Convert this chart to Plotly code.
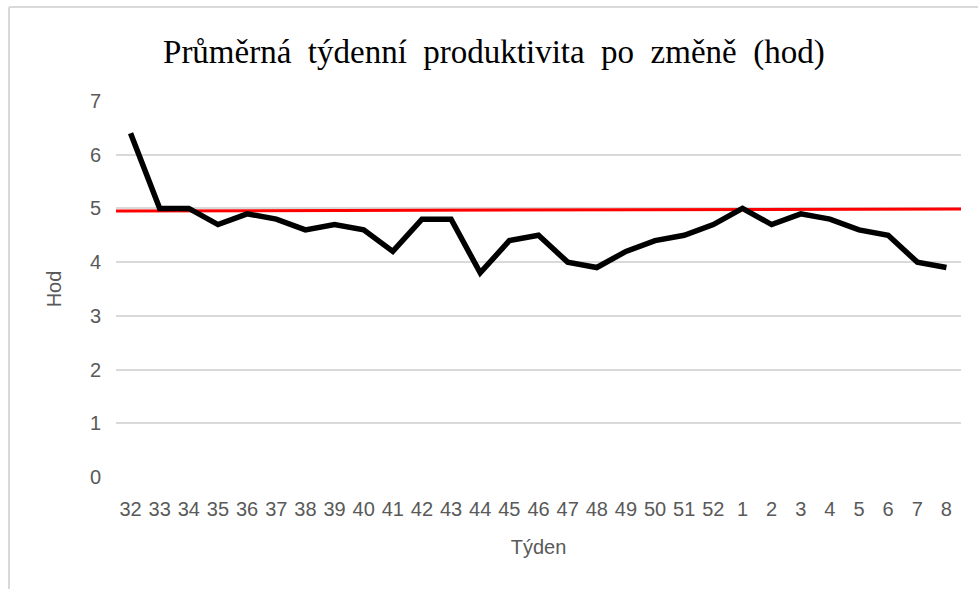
import plotly.graph_objects as go

weeks = ["32", "33", "34", "35", "36", "37", "38", "39", "40", "41", "42", "43", "44", "45",
         "46", "47", "48", "49", "50", "51", "52", "1", "2", "3", "4", "5", "6", "7", "8"]
hours = [6.4, 5.0, 5.0, 4.7, 4.9, 4.8, 4.6, 4.7, 4.6, 4.2, 4.8, 4.8, 3.8, 4.4,
         4.5, 4.0, 3.9, 4.2, 4.4, 4.5, 4.7, 5.0, 4.7, 4.9, 4.8, 4.6, 4.5, 4.0, 3.9]
target_ends = [4.95, 4.99]
y_ticks = [0, 1, 2, 3, 4, 5, 6, 7]
title_text = "Průměrná týdenní produktivita po změně (hod)"

idx = list(range(len(weeks)))
edge_x = [-0.5, len(weeks) - 0.5]

W, H = 978, 589
L, R, T, B = 116, 17, 101, 112
pw, ph = W - L - R, H - T - B

tick_font = dict(family="Liberation Sans, Arial", size=20, color="#595959")

fig = go.Figure()
fig.add_trace(go.Scatter(x=edge_x, y=target_ends, mode="lines",
                         line=dict(color="#ff0000", width=3), showlegend=False, hoverinfo="skip"))
fig.add_trace(go.Scatter(x=idx, y=hours, mode="lines",
                         line=dict(color="#000000", width=5.5), showlegend=False))

fig.update_layout(
    width=W, height=H,
    margin=dict(l=L, r=R, t=T, b=B),
    paper_bgcolor="white", plot_bgcolor="white",
    title=dict(text=title_text.replace(" ", " \u00a0"),
               font=dict(family="Liberation Serif, Times New Roman, serif", size=33, color="#000000"),
               x=0.505, xanchor="center", y=1 - 51 / H, yanchor="middle"),
    xaxis=dict(range=edge_x, tickmode="array", tickvals=idx, ticktext=weeks,
               showgrid=False, zeroline=False, showline=False, ticks="",
               tickfont=tick_font, ticklabelstandoff=18, fixedrange=True,
               title=dict(text="Týden", font=tick_font, standoff=20)),
    yaxis=dict(range=[0, 7], tickmode="array", tickvals=y_ticks,
               showgrid=True, gridcolor="#d9d9d9", gridwidth=1.5, zeroline=False,
               showline=False, ticks="", tickfont=tick_font, ticklabelstandoff=14,
               title=dict(text="Hod", font=tick_font, standoff=22)),
)

# chart frame (left and top border)
x_left = (9 - L) / pw
y_top = 1 + (T - 7) / ph
fig.add_shape(type="line", xref="paper", yref="paper", x0=x_left, x1=x_left,
              y0=-0.5, y1=y_top, line=dict(color="#d9d9d9", width=2))
fig.add_shape(type="line", xref="paper", yref="paper", x0=x_left, x1=1.2,
              y0=y_top, y1=y_top, line=dict(color="#d9d9d9", width=2))

fig.write_html("out.html", config={"displayModeBar": False},
               post_script="document.body.style.margin='0';")
